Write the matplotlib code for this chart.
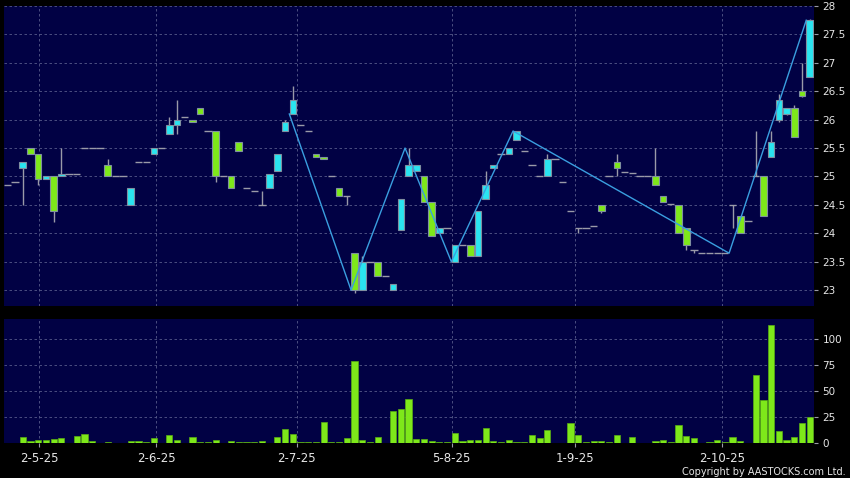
import matplotlib
matplotlib.use("Agg")
import matplotlib.pyplot as plt
import numpy as np

# daily candles, one per trading session (left to right)
opens = [24.85, 24.9, 25.15, 25.5, 25.4, 24.95, 25.0, 25.0, 25.05, 25.05,
         25.5, 25.5, 25.5, 25.2, 25.0, 25.0, 24.5, 25.25, 25.25, 25.4,
         25.5, 25.75, 25.9, 26.05, 26.0, 26.2, 25.8, 25.8, 25.0, 25.0,
         25.6, 24.8, 24.75, 24.5, 24.8, 25.1, 25.8, 26.1, 25.9, 25.8,
         25.4, 25.35, 25.0, 24.8, 24.65, 23.65, 23.0, 23.5, 23.5, 23.25,
         23.0, 24.05, 25.0, 25.1, 25.0, 24.55, 24.0, 24.1, 23.5, 23.8,
         23.8, 23.6, 24.6, 25.15, 25.4, 25.4, 25.65, 25.45, 25.2, 25.0,
         25.0, 25.3, 24.9, 24.4, 24.1, 24.1, 24.12, 24.5, 25.0, 25.25,
         25.08, 25.06, 25.0, 25.0, 25.0, 24.65, 24.52, 24.5, 24.1, 23.7,
         23.66, 23.66, 23.66, 23.66, 24.5, 24.3, 24.22, 25.0, 25.0, 25.35,
         26.0, 26.1, 26.2, 26.5, 26.75]
highs = [24.85, 24.9, 25.25, 25.5, 25.4, 25.0, 25.0, 25.5, 25.05, 25.05,
         25.5, 25.5, 25.5, 25.3, 25.0, 25.0, 24.8, 25.25, 25.25, 25.5,
         25.5, 26.05, 26.35, 26.05, 26.0, 26.2, 25.8, 25.8, 25.0, 25.0,
         25.6, 24.8, 24.75, 24.75, 25.05, 25.4, 26.0, 26.6, 25.9, 25.8,
         25.4, 25.35, 25.0, 24.8, 24.65, 23.65, 23.6, 23.5, 23.5, 23.25,
         23.1, 24.6, 25.5, 25.2, 25.0, 24.55, 24.1, 24.1, 23.8, 23.8,
         23.8, 24.4, 25.1, 25.2, 25.4, 25.5, 25.8, 25.45, 25.2, 25.0,
         25.4, 25.3, 24.9, 24.4, 24.1, 24.1, 24.12, 24.5, 25.0, 25.4,
         25.08, 25.06, 25.0, 25.0, 25.5, 24.65, 24.52, 24.5, 24.1, 23.7,
         23.66, 23.66, 23.66, 23.66, 24.5, 24.3, 24.22, 25.8, 25.0, 25.8,
         26.45, 26.2, 26.25, 27.0, 27.78]
lows = [24.85, 24.9, 24.5, 25.4, 24.85, 24.95, 24.2, 25.0, 25.05, 25.05,
        25.5, 25.5, 25.5, 25.0, 25.0, 25.0, 24.5, 25.25, 25.25, 25.4,
        25.5, 25.75, 25.75, 26.05, 25.95, 26.1, 25.8, 24.9, 25.0, 24.8,
        25.45, 24.8, 24.75, 24.5, 24.8, 25.1, 25.8, 26.1, 25.9, 25.8,
        25.35, 25.3, 25.0, 24.65, 24.5, 22.95, 23.0, 23.5, 23.25, 23.25,
        23.0, 24.05, 25.0, 25.1, 24.55, 23.95, 24.0, 24.1, 23.5, 23.8,
        23.6, 23.6, 24.6, 25.15, 25.4, 25.4, 25.65, 25.45, 25.2, 25.0,
        25.0, 25.3, 24.9, 24.4, 24.0, 24.1, 24.12, 24.35, 25.0, 25.0,
        25.08, 25.06, 25.0, 25.0, 24.85, 24.55, 24.52, 24.0, 23.7, 23.66,
        23.66, 23.66, 23.66, 23.66, 24.1, 24.0, 24.22, 25.0, 24.3, 25.35,
        25.95, 26.08, 25.7, 26.4, 26.75]
closes = [24.85, 24.9, 25.25, 25.4, 24.95, 25.0, 24.4, 25.05, 25.05, 25.05,
          25.5, 25.5, 25.5, 25.0, 25.0, 25.0, 24.8, 25.25, 25.25, 25.5,
          25.5, 25.9, 26.0, 26.05, 25.95, 26.1, 25.8, 25.0, 25.0, 24.8,
          25.45, 24.8, 24.75, 24.5, 25.05, 25.4, 25.95, 26.35, 25.9, 25.8,
          25.35, 25.3, 25.0, 24.65, 24.65, 23.0, 23.5, 23.5, 23.25, 23.25,
          23.1, 24.6, 25.2, 25.2, 24.55, 23.95, 24.1, 24.1, 23.8, 23.8,
          23.6, 24.4, 24.85, 25.2, 25.4, 25.5, 25.8, 25.45, 25.2, 25.0,
          25.3, 25.3, 24.9, 24.4, 24.1, 24.1, 24.12, 24.4, 25.0, 25.15,
          25.08, 25.06, 25.0, 25.0, 24.85, 24.55, 24.52, 24.0, 23.8, 23.7,
          23.66, 23.66, 23.66, 23.66, 24.5, 24.0, 24.22, 25.0, 24.3, 25.6,
          26.35, 26.2, 25.7, 26.42, 27.75]
volume = [0.5, 0, 6.4, 2.2, 2.9, 2.9, 3.8, 5.4, 0, 7,
          9, 2.2, 0, 1, 0, 0, 2, 2.2, 1, 5.1,
          0, 7.7, 3.2, 0, 6, 1.6, 1.6, 2.9, 0, 2.6,
          1.3, 1, 1, 2.2, 0, 5.8, 13.8, 9, 1, 1,
          1, 20.5, 1, 1, 4.8, 79, 3.2, 1, 6, 0,
          31, 33, 43, 3.8, 4, 2, 1.3, 1.3, 10.3, 2.6,
          3.5, 3.2, 14.4, 2.2, 1.3, 3.2, 1.3, 1.3, 8, 5.4,
          12.8, 0.3, 0, 20, 7.7, 1.6, 2.6, 1.9, 1.3, 7.7,
          0, 6.4, 0.3, 0, 1.9, 3.2, 1.6, 17.6, 6.7, 4.8,
          0, 1, 3.5, 1.3, 6.4, 2.2, 0.6, 65.7, 41.7, 113.5,
          11.9, 3.2, 6, 20, 25.6]

# zigzag trend line: (candle index, price)
zz_idx = [37, 45, 52, 58, 66, 94, 104]
zz_val = [26.1, 23.0, 25.5, 23.5, 25.8, 23.65, 27.75]

date_labels = ["2-5-25", "2-6-25", "2-7-25", "5-8-25", "1-9-25", "2-10-25"]
date_pos = [4.1, 19.3, 37.5, 57.6, 73.55, 92.6]

price_ticks = [23, 23.5, 24, 24.5, 25, 25.5, 26, 26.5, 27, 27.5, 28]
vol_ticks = [0, 25, 50, 75, 100]

BG = "#010144"
CYAN = "#2ae4f0"
GREEN = "#7ee81a"
GRID = "#565a8a"
TXT = "#e6e6e6"

o = np.array(opens); h = np.array(highs); l = np.array(lows); c = np.array(closes)
x = np.arange(len(o))

fig = plt.figure(figsize=(8.5, 4.78), dpi=100, facecolor="black")
ax = fig.add_axes([0.0047, 0.3598, 0.953, 0.6276], facecolor=BG)
axv = fig.add_axes([0.0047, 0.0726, 0.953, 0.2607], facecolor=BG, sharex=ax)

for a in (ax, axv):
    for s in a.spines.values():
        s.set_visible(False)
    a.grid(True, color=GRID, linestyle=(0, (3, 3)), linewidth=0.6)
    a.set_axisbelow(True)
    a.yaxis.tick_right()

# wicks
ax.vlines(x, l, h, color="#9a9aa8", linewidth=1, zorder=2)

doji = o == c
up = c > o
down = c < o
ax.hlines(o[doji], x[doji] - 0.47, x[doji] + 0.47, color="#9a9aa8", linewidth=1, zorder=3)
ax.bar(x[up], (c - o)[up], bottom=o[up], width=0.85, color=CYAN,
       edgecolor="#7f8fa0", linewidth=0.8, zorder=3)
ax.bar(x[down], (o - c)[down], bottom=c[down], width=0.85, color=GREEN,
       edgecolor="#7f8fa0", linewidth=0.8, zorder=3)

ax.plot(np.array(zz_idx) - 0.45, zz_val, color="#3a9fe0", linewidth=1.0, zorder=4)

ax.set_ylim(22.72, 28.0)
ax.set_yticks(price_ticks)
ax.set_yticklabels([f"{t:g}" for t in price_ticks])
ax.tick_params(axis="y", colors="#9a9aa8", labelcolor=TXT, labelsize=7.5,
               length=3, pad=3)
ax.tick_params(axis="x", bottom=False, labelbottom=False)

axv.bar(x, volume, width=0.8, color=GREEN, edgecolor="#5aae14", linewidth=0.5, zorder=3)
axv.set_ylim(0, 120)
axv.set_yticks(vol_ticks)
axv.tick_params(axis="y", colors="#9a9aa8", labelcolor=TXT, labelsize=7.5,
                length=3, pad=3)

axv.set_xticks(date_pos)
axv.set_xticklabels(date_labels)
axv.tick_params(axis="x", colors="#9a9aa8", labelcolor=TXT, labelsize=8.5,
                length=3, pad=3)
axv.set_xlim(-0.43, 104.56)

fig.text(0.995, 0.013, "Copyright by AASTOCKS.com Ltd.", color=TXT,
         fontsize=7, ha="right", va="center")

fig.savefig("out.png", dpi=100, facecolor="black")
